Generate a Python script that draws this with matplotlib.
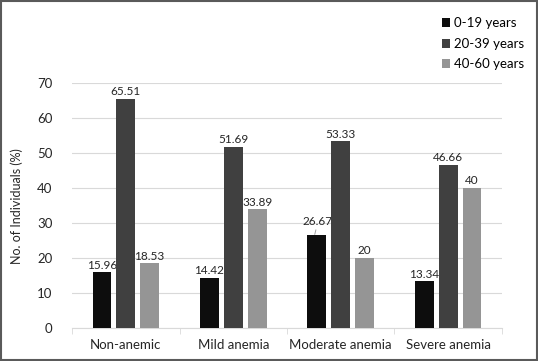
import matplotlib.pyplot as plt
import numpy as np

plt.rcParams['font.family'] = ['Lato', 'DejaVu Sans']

categories = ['Non-anemic', 'Mild anemia', 'Moderate anemia', 'Severe anemia']
age_groups = ['0-19 years', '20-39 years', '40-60 years']
vals_0_19 = [15.96, 14.42, 26.67, 13.34]
vals_20_39 = [65.51, 51.69, 53.33, 46.66]
vals_40_60 = [18.53, 33.89, 20, 40]
labels_0_19 = ['15.96', '14.42', '26.67', '13.34']
labels_20_39 = ['65.51', '51.69', '53.33', '46.66']
labels_40_60 = ['18.53', '33.89', '20', '40']
colors = ['#0d0d0d', '#404040', '#959595']

fig = plt.figure(figsize=(5.38, 3.61), dpi=100)
ax = fig.add_axes([0.134, 0.091, 0.799, 0.679])

x = np.arange(len(categories))
w = 0.175
step = 0.222
series = [vals_0_19, vals_20_39, vals_40_60]
texts = [labels_0_19, labels_20_39, labels_40_60]
for i, (vals, labs) in enumerate(zip(series, texts)):
    pos = x + (i - 1) * step
    ax.bar(pos, vals, width=w, color=colors[i], label=age_groups[i], zorder=3)
    for j, (p, v, t) in enumerate(zip(pos, vals, labs)):
        if i == 0 and j == 2:
            # label lifted a bit, with a leader line
            ax.annotate(t, xy=(p - 0.02, v + 0.1), xytext=(p + 0.01, v + 2.2), ha='center',
                        va='bottom', fontsize=8.5, color='#262626',
                        arrowprops=dict(arrowstyle='-', color='#a0a0a0', lw=0.7,
                                        shrinkA=0, shrinkB=0))
        else:
            ax.text(p, v + 0.5, t, ha='center', va='bottom', fontsize=8.5, color='#262626')

ax.set_xlim(-0.5, len(categories) - 0.5)
ax.set_ylim(0, 70)
ax.set_yticks(np.arange(0, 71, 10))
ax.set_xticks(x)
ax.set_xticklabels(categories)
ax.set_xticks(np.arange(-0.5, len(categories), 1), minor=True)
ax.tick_params(axis='x', which='major', length=0, pad=8, labelsize=9.5, colors='#262626')
ax.tick_params(axis='x', which='minor', length=4, color='#d9d9d9')
ax.tick_params(axis='y', length=0, pad=14, labelsize=9.5, colors='#262626')
ax.grid(axis='y', color='#d9d9d9', lw=0.8, zorder=0)
for s in ['top', 'right', 'left']:
    ax.spines[s].set_visible(False)
ax.spines['bottom'].set_color('#d9d9d9')
ax.set_ylabel('No. of Individuals (%)', fontsize=9, color='#262626', labelpad=10)

fig.legend(loc='upper right', bbox_to_anchor=(0.997, 0.985), frameon=False, fontsize=9.5,
           handlelength=0.65, handleheight=0.65, handletextpad=0.3, labelspacing=0.65)

fig.patches.append(plt.Rectangle((0.002, 0.003), 0.996, 0.994, transform=fig.transFigure,
                                 fill=False, edgecolor='#5a5a5a', lw=1.5))

fig.savefig('out.png', dpi=100)
